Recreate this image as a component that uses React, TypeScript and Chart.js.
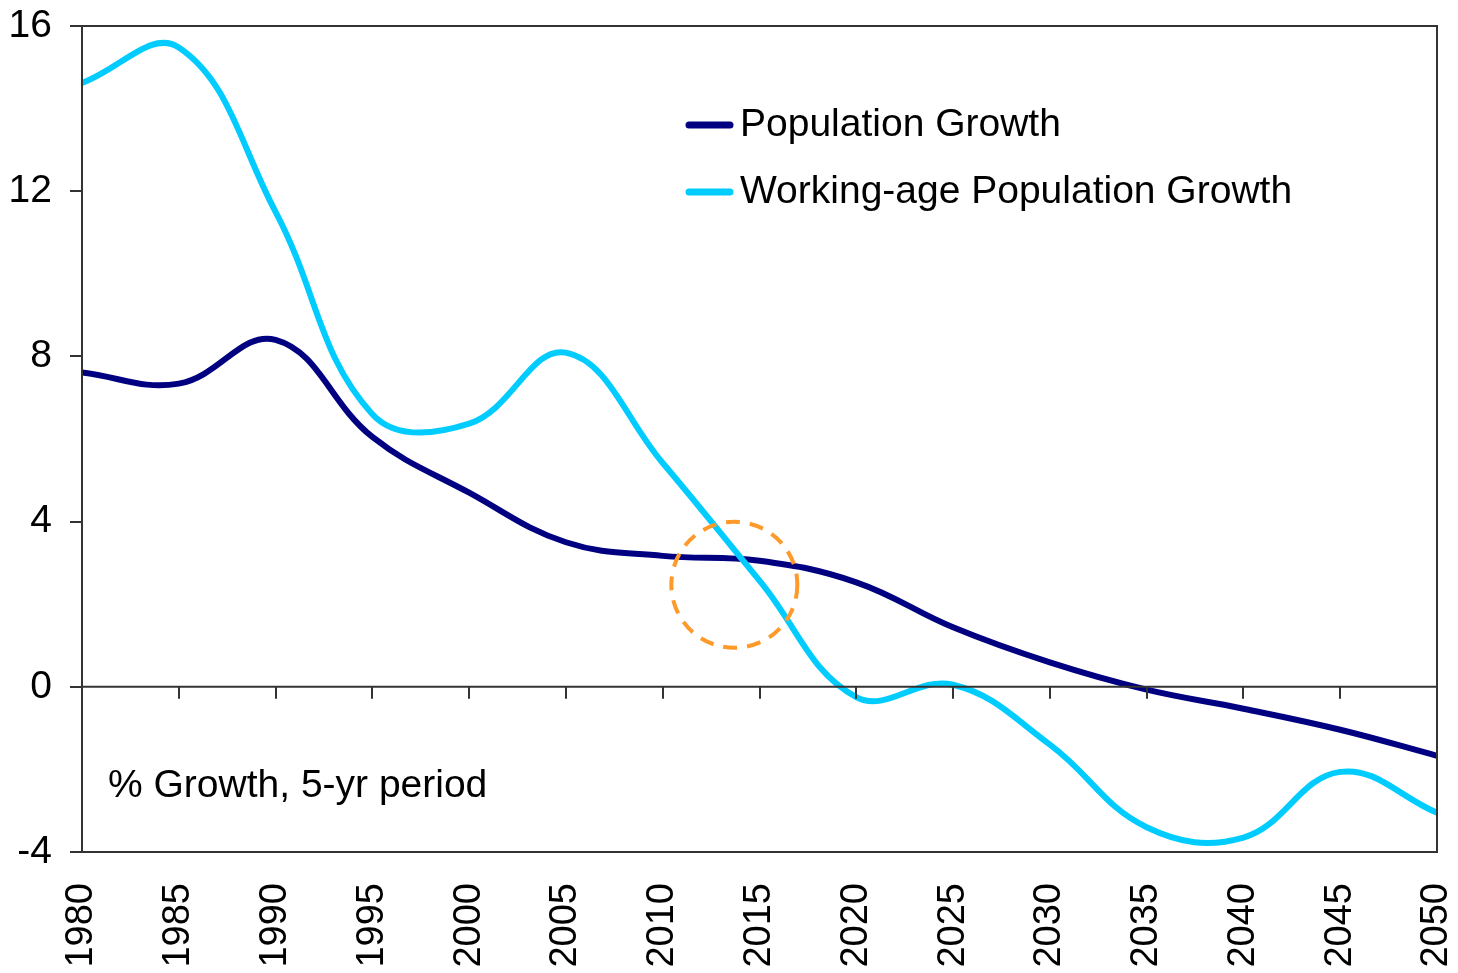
import React, { useEffect, useRef } from "react";
import { Chart, registerables } from "chart.js";

Chart.register(...registerables);

const years = [1980, 1985, 1990, 1995, 2000, 2005, 2010, 2015, 2020, 2025, 2030, 2035, 2040, 2045, 2050];
const populationGrowth = [7.61, 7.34, 8.4, 6.05, 4.7, 3.5, 3.17, 3.05, 2.53, 1.44, 0.59, -0.07, -0.53, -1.04, -1.67];
const workingAgeGrowth = [14.62, 15.48, 11.5, 6.6, 6.37, 8.09, 5.42, 2.57, -0.25, 0.05, -1.4, -3.4, -3.65, -2.06, -3.05];
const yTicks = [-4, 0, 4, 8, 12, 16];
const seriesLabels = ["Population Growth", "Working-age Population Growth"];
const seriesColors = ["#000080", "#00CCFF"];
const noteText = "% Growth, 5-yr period";
const highlight = { x: 2013.7, y: 2.47 };

const FONT = "Liberation Sans, Arial, sans-serif";
const AXIS = "#333333";

const decorPlugin = {
  id: "decor",
  afterDatasetsDraw(chart: any) {
    const { ctx, chartArea: a, scales } = chart;
    const xs = scales.x;
    const ys = scales.y;
    ctx.save();
    // zero line + ticks
    const y0 = ys.getPixelForValue(0);
    ctx.strokeStyle = AXIS;
    ctx.lineWidth = 2;
    ctx.beginPath();
    ctx.moveTo(a.left, y0);
    ctx.lineTo(a.right, y0);
    for (const yr of years.slice(1, -1)) {
      const px = Math.round(xs.getPixelForValue(yr));
      ctx.moveTo(px, y0);
      ctx.lineTo(px, y0 + 12);
    }
    ctx.stroke();
    // frame
    ctx.strokeRect(a.left, a.top, a.right - a.left, a.bottom - a.top);

    // circle
    const cx = xs.getPixelForValue(highlight.x);
    const cy = ys.getPixelForValue(highlight.y);
    ctx.strokeStyle = "#FF9A2A";
    ctx.lineWidth = 4;
    ctx.setLineDash([14, 10]);
    ctx.beginPath();
    ctx.arc(cx, cy, 63, 0, Math.PI * 2);
    ctx.stroke();
    ctx.setLineDash([]);

    // legend
    ctx.font = `39px ${FONT}`;
    ctx.textBaseline = "middle";
    ctx.fillStyle = "#000";
    const legY = [125, 192];
    seriesLabels.forEach((lbl, i) => {
      ctx.strokeStyle = seriesColors[i];
      ctx.lineWidth = 7;
      ctx.lineCap = "round";
      ctx.beginPath();
      ctx.moveTo(689, legY[i]);
      ctx.lineTo(730, legY[i]);
      ctx.stroke();
      ctx.fillText(lbl, 740, legY[i]);
    });
    ctx.lineCap = "butt";

    // note
    ctx.fillText(noteText, 108, 786);
    ctx.restore();
  },
};

const zeroPad = (s: any) => {
  s.paddingLeft = 0;
  s.paddingRight = 0;
  s.paddingTop = 0;
  s.paddingBottom = 0;
};

export default function App() {
  const ref = useRef<HTMLCanvasElement>(null);
  useEffect(() => {
    if (!ref.current) return;
    const chart = new Chart(ref.current, {
      type: "line",
      data: {
        datasets: [
          {
            label: seriesLabels[0],
            data: years.map((x, i) => ({ x, y: populationGrowth[i] })),
            borderColor: seriesColors[0],
            borderWidth: 6,
            pointRadius: 0,
            tension: 0.4,
            order: 1,
          },
          {
            label: seriesLabels[1],
            data: years.map((x, i) => ({ x, y: workingAgeGrowth[i] })),
            borderColor: seriesColors[1],
            borderWidth: 6,
            pointRadius: 0,
            tension: 0.4,
            order: 0,
          },
        ],
      },
      options: {
        responsive: false,
        animation: false,
        layout: { padding: { top: 26, right: 21, left: 0, bottom: 0 } },
        plugins: { legend: { display: false }, tooltip: { enabled: false } },
        scales: {
          x: {
            type: "linear",
            min: 1980,
            max: 2050,
            afterBuildTicks: (s: any) => {
              s.ticks = years.map((v) => ({ value: v }));
            },
            afterFit: (s: any) => {
              s.height = 121;
              zeroPad(s);
            },
            grid: { display: false, drawTicks: false },
            border: { display: false },
            ticks: {
              autoSkip: false,
              minRotation: 90,
              maxRotation: 90,
              padding: 31,
              color: "#000",
              font: { family: FONT, size: 38 },
              callback: (v: any) => String(v),
            },
          },
          y: {
            min: -4,
            max: 16,
            afterBuildTicks: (s: any) => {
              s.ticks = yTicks.map((v) => ({ value: v }));
            },
            afterFit: (s: any) => {
              s.width = 82;
              zeroPad(s);
            },
            grid: { drawOnChartArea: false, drawTicks: true, tickLength: 12, color: AXIS, lineWidth: 2 },
            border: { display: false },
            ticks: {
              padding: 18,
              color: "#000",
              font: { family: FONT, size: 39 },
              callback: (v: any) => String(v),
            },
          },
        },
      },
      plugins: [decorPlugin],
    });
    return () => chart.destroy();
  }, []);
  return (
    <div style={{ position: "absolute", left: 0, top: 0, width: 1458, height: 973, background: "#fff" }}>
      <canvas ref={ref} width={1458} height={973} />
    </div>
  );
}
